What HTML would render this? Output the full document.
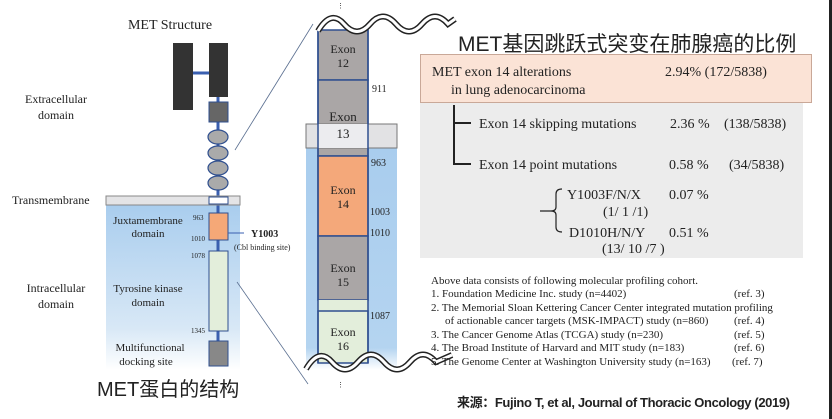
<!DOCTYPE html>
<html><head><meta charset="utf-8"><style>
body{margin:0;width:832px;height:419px;background:#fff;overflow:hidden;position:relative}
svg{position:absolute;left:0;top:0}
text{font-family:"Liberation Serif",serif;fill:#222}
.cj{font-family:"Liberation Sans","Noto Sans CJK SC",sans-serif}
</style></head><body>
<svg width="832" height="419" viewBox="0 0 832 419">
<defs>
<linearGradient id="bg" x1="0" y1="0" x2="0" y2="1"><stop offset="0" stop-color="#a9cdee"/><stop offset="0.75" stop-color="#d8e8f6"/><stop offset="1" stop-color="#fff"/></linearGradient>
<linearGradient id="bg2" x1="0" y1="0" x2="0" y2="1"><stop offset="0" stop-color="#a9cdee"/><stop offset="0.9" stop-color="#b4d4f0"/><stop offset="1" stop-color="#fff"/></linearGradient>
</defs>
<rect x="829" y="0" width="3" height="419" fill="#222"/>
<text x="170" y="29" font-size="14" text-anchor="middle">MET Structure</text>
<rect x="106" y="205" width="134" height="165" fill="url(#bg)"/>
<line x1="235" y1="150" x2="313" y2="24" stroke="#5a6f90" stroke-width="0.8"/>
<line x1="237" y1="282" x2="308" y2="384" stroke="#5a6f90" stroke-width="0.8"/>
<line x1="218" y1="97" x2="218" y2="345" stroke="#3a5fb0" stroke-width="3"/>
<line x1="193" y1="73" x2="209" y2="73" stroke="#3a5fb0" stroke-width="3"/>
<rect x="173" y="43" width="20" height="67" fill="#333"/>
<rect x="209" y="43" width="19" height="54" fill="#333"/>
<rect x="209" y="102" width="19" height="20" fill="#666" stroke="#2f4f8f"/>
<g fill="#aaa" stroke="#2f4f8f" stroke-width="1.2"><ellipse cx="218" cy="137" rx="10" ry="7"/><ellipse cx="218" cy="153" rx="10" ry="7"/><ellipse cx="218" cy="168" rx="10" ry="7"/><ellipse cx="218" cy="183" rx="10" ry="7"/></g>
<rect x="106" y="196" width="134" height="9" fill="#e4e4e6" stroke="#888"/>
<rect x="209" y="197" width="19" height="7" fill="#fff" stroke="#2f4f8f"/>
<rect x="209" y="213" width="19" height="27" fill="#f5a877" stroke="#2f4f8f"/>
<rect x="209" y="251" width="19" height="80" fill="#e3eedb" stroke="#2f4f8f"/>
<rect x="209" y="341" width="19" height="25" fill="#888" stroke="#2f4f8f"/>
<line x1="228" y1="233" x2="244" y2="233" stroke="#3a5fb0"/>
<g font-size="12" text-anchor="middle">
<text x="56" y="103">Extracellular</text><text x="56" y="119">domain</text>
<text x="56" y="292">Intracellular</text><text x="56" y="308">domain</text>
<text x="148" y="224" font-size="11">Juxtamembrane</text><text x="148" y="237" font-size="11">domain</text>
<text x="148" y="292" font-size="11">Tyrosine kinase</text><text x="148" y="306" font-size="11">domain</text>
<text x="150" y="351" font-size="11">Multifunctional</text><text x="146" y="365" font-size="11">docking site</text>
</g>
<text x="12" y="204" font-size="12">Transmembrane</text>
<g font-size="7"><text x="193" y="220">963</text><text x="191" y="241">1010</text><text x="191" y="258">1078</text><text x="191" y="333">1345</text></g>
<text x="251" y="237" font-size="10" font-weight="bold">Y1003</text>
<text x="234" y="250" font-size="8">(Cbl binding site)</text>
<text x="97" y="396" font-size="20" class="cj" fill="#333">MET蛋白的结构</text>
<rect x="306" y="148" width="91" height="222" fill="url(#bg2)"/>
<rect x="318" y="30" width="50" height="50" fill="#aaa6a6" stroke="#2f4f8f" stroke-width="1.5"/>
<rect x="318" y="80" width="50" height="76" fill="#aaa6a6" stroke="#2f4f8f" stroke-width="1.5"/>
<rect x="306" y="124" width="91" height="24" fill="#e2e2e4" stroke="#777"/>
<rect x="318" y="124" width="50" height="24" fill="#ececef"/>
<rect x="318" y="156" width="50" height="80" fill="#f4a87a" stroke="#2f4f8f" stroke-width="1.5"/>
<rect x="318" y="236" width="50" height="64" fill="#aaa6a6" stroke="#2f4f8f" stroke-width="1.5"/>
<rect x="318" y="300" width="50" height="11" fill="#e3eedb"/>
<rect x="318" y="311" width="50" height="52" fill="#e3eedb" stroke="#2f4f8f" stroke-width="1.5"/>
<line x1="318" y1="30" x2="318" y2="363" stroke="#2f4f8f" stroke-width="1.5"/>
<line x1="368" y1="30" x2="368" y2="363" stroke="#2f4f8f" stroke-width="1.5"/>
<g font-size="12" text-anchor="middle" fill="#333">
<text x="343" y="53">Exon</text><text x="343" y="67">12</text>
<text x="343" y="121" font-size="13">Exon</text><text x="343" y="138" font-size="13">13</text>
<text x="343" y="194">Exon</text><text x="343" y="208">14</text>
<text x="343" y="272">Exon</text><text x="343" y="286">15</text>
<text x="343" y="336">Exon</text><text x="343" y="350">16</text>
</g>
<g font-size="10"><text x="372" y="92">911</text><text x="371" y="166">963</text><text x="370" y="215">1003</text><text x="370" y="236">1010</text><text x="370" y="319">1087</text></g>
<g fill="none">
<path d="M318 31 Q331 9 344 24 T370 24 T396 24 T422 24 T448 24 L455 19" stroke="#222" stroke-width="6"/>
<path d="M318 31 Q331 9 344 24 T370 24 T396 24 T422 24 T448 24 L455 19" stroke="#fff" stroke-width="3"/>
<path d="M306 369 Q319 347 332 362 T358 362 T384 362 T410 362 T436 362 L452 355" stroke="#222" stroke-width="6"/>
<path d="M306 369 Q319 347 332 362 T358 362 T384 362 T410 362 T436 362 L452 355" stroke="#fff" stroke-width="3"/>
</g>
<text x="337" y="8" font-size="7">⋮</text>
<text x="337" y="387" font-size="7">⋮</text>
<text x="458" y="51" font-size="21" class="cj" fill="#333">MET基因跳跃式突变在肺腺癌的比例</text>
<rect x="420" y="103" width="383" height="155" fill="#ececec"/>
<rect x="420.5" y="54.5" width="391" height="48" fill="#fbe3d6" stroke="#c9a898"/>
<g font-size="14">
<text x="432" y="76">MET exon 14 alterations</text>
<text x="451" y="94">in lung adenocarcinoma</text>
<text x="665" y="76">2.94%  (172/5838)</text>
<text x="479" y="128">Exon 14 skipping mutations</text>
<text x="670" y="128">2.36 %</text><text x="724" y="128">(138/5838)</text>
<text x="479" y="169">Exon 14 point mutations</text>
<text x="669" y="169">0.58 %</text><text x="729" y="169">(34/5838)</text>
<text x="567" y="199">Y1003F/N/X</text><text x="669" y="199">0.07 %</text>
<text x="603" y="216">(1/ 1 /1)</text>
<text x="569" y="237">D1010H/N/Y</text><text x="669" y="237">0.51 %</text>
<text x="602" y="253">(13/ 10 /7 )</text>
</g>
<path d="M454 105 V164 H471 M454 123 H471" fill="none" stroke="#222" stroke-width="2"/>
<path d="M562 189 Q556 189 556 194 V207 Q556 211 551 211 Q556 211 556 215 V227 Q556 232 562 232 M540 211 H551" fill="none" stroke="#222" stroke-width="1.2"/>
<g font-size="11">
<text x="431" y="284">Above data consists of following molecular profiling cohort.</text>
<text x="431" y="297">1.  Foundation Medicine Inc. study (n=4402)</text><text x="734" y="297">(ref. 3)</text>
<text x="431" y="311">2.  The Memorial Sloan Kettering Cancer Center integrated mutation profiling</text>
<text x="445" y="324">of actionable cancer targets (MSK-IMPACT) study (n=860)</text><text x="734" y="324">(ref. 4)</text>
<text x="431" y="338">3.  The Cancer Genome Atlas (TCGA) study (n=230)</text><text x="734" y="338">(ref. 5)</text>
<text x="431" y="351">4.  The Broad Institute of Harvard and MIT study (n=183)</text><text x="734" y="351">(ref. 6)</text>
<text x="431" y="365">5.  The Genome Center at Washington University study (n=163)</text><text x="732" y="365">(ref. 7)</text>
</g>
<text x="457" y="407" font-size="13" class="cj" fill="#222" font-weight="bold" textLength="333">来源：Fujino T, et al, Journal of Thoracic Oncology (2019)</text>
</svg>
</body></html>
